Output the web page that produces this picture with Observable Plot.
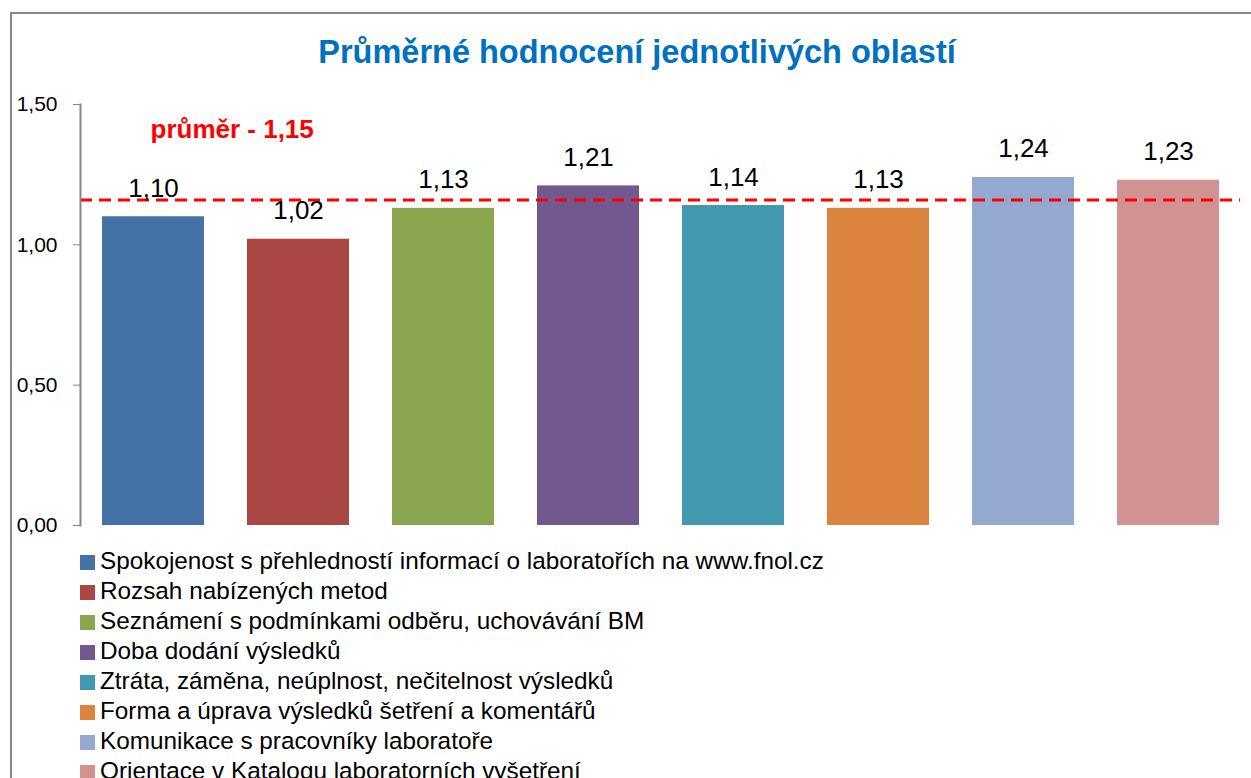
<!DOCTYPE html>
<html>
<head>
<meta charset="utf-8">
<script src="https://cdn.jsdelivr.net/npm/d3@7"></script>
<script src="https://cdn.jsdelivr.net/npm/@observablehq/plot@0.6"></script>
<style>
  html, body { margin: 0; padding: 0; background: #fff; overflow: hidden; width: 1251px; height: 778px; }
  #border { position: absolute; left: 10px; top: 12px; width: 1400px; height: 900px; border: 2px solid #868686; box-sizing: border-box; }
  #title { position: absolute; left: 10px; width: 1254px; top: 34px; text-align: center; font-family: "Liberation Sans", Arial, sans-serif; font-weight: bold; font-size: 32.5px; color: #0070C0; line-height: 1.15; }
  #chart { position: absolute; left: 0; top: 0; }
  #legend { position: absolute; left: 80px; top: 546px; font-family: "Liberation Sans", Arial, sans-serif; font-size: 24.3px; color: #000; }
  .item { height: 30px; display: flex; align-items: center; white-space: nowrap; }
  .sw { width: 15px; height: 15px; margin-right: 5px; flex: none; position: relative; top: 1px; }
</style>
</head>
<body>
<div id="border"></div>
<div id="title"></div>
<div id="chart"></div>
<div id="legend"></div>
<script>
const titleText = "Průměrné hodnocení jednotlivých oblastí";
const categories = [
  "Spokojenost s přehledností informací o laboratořích na www.fnol.cz",
  "Rozsah nabízených metod",
  "Seznámení s podmínkami odběru, uchovávání BM",
  "Doba dodání výsledků",
  "Ztráta, záměna, neúplnost, nečitelnost výsledků",
  "Forma a úprava výsledků šetření a komentářů",
  "Komunikace s pracovníky laboratoře",
  "Orientace v Katalogu laboratorních vyšetření"
];
const values = [1.10, 1.02, 1.13, 1.21, 1.14, 1.13, 1.24, 1.23];
const colors = ["#4572A7", "#AA4643", "#89A54E", "#71588F", "#4198AF", "#DB843D", "#93A9CF", "#D19392"];
const yTicks = [0, 0.5, 1.0, 1.5];
const averageLine = 1.16;
const averageLabel = "průměr - 1,15";
const averageLabelY = 1.41;

const fmt = d => d.toFixed(2).replace(".", ",");
const data = categories.map((c, i) => ({category: c, value: values[i], color: colors[i]}));

document.getElementById("title").textContent = titleText;

const plot = Plot.plot({
  width: 1251,
  height: 540,
  marginLeft: 80,
  marginRight: 11,
  marginTop: 104,
  marginBottom: 15,
  style: {fontFamily: "'Liberation Sans', Arial, sans-serif", background: "transparent"},
  x: {domain: categories, paddingInner: 0.3, paddingOuter: 0.15, axis: null},
  y: {domain: [0, 1.5], ticks: yTicks, tickFormat: fmt},
  marks: [
    Plot.barY(data, {x: "category", y: "value", fill: "color"}),
    Plot.ruleY([averageLine], {stroke: "#FF0000", strokeWidth: 3, strokeDasharray: "12,7"}),
    Plot.text(data, {x: "category", y: "value", text: d => fmt(d.value), lineAnchor: "bottom", dy: -20, fontSize: 26, fill: "#000"}),
    Plot.text([averageLabel], {x: [categories[0]], y: [averageLabelY], text: d => d, textAnchor: "start", dx: -3, fontSize: 26, fontWeight: "bold", fill: "#FF0000"}),
    Plot.axisY({ticks: yTicks, tickFormat: fmt, tickSize: 7, tickPadding: 16, fontSize: 21, stroke: "#868686", color: "#000", label: null}),
    Plot.frame({anchor: "left", stroke: "#868686", strokeWidth: 2})
  ]
});
plot.querySelectorAll("g[aria-label='y-axis tick label'] text, g[aria-label='y-axis tick label']").forEach(e => e.setAttribute("fill", "#000"));
document.getElementById("chart").appendChild(plot);

const legend = document.getElementById("legend");
categories.forEach((c, i) => {
  const row = document.createElement("div");
  row.className = "item";
  const sw = document.createElement("span");
  sw.className = "sw";
  sw.style.background = colors[i];
  const t = document.createElement("span");
  t.textContent = c;
  row.appendChild(sw);
  row.appendChild(t);
  legend.appendChild(row);
});
</script>
</body>
</html>
